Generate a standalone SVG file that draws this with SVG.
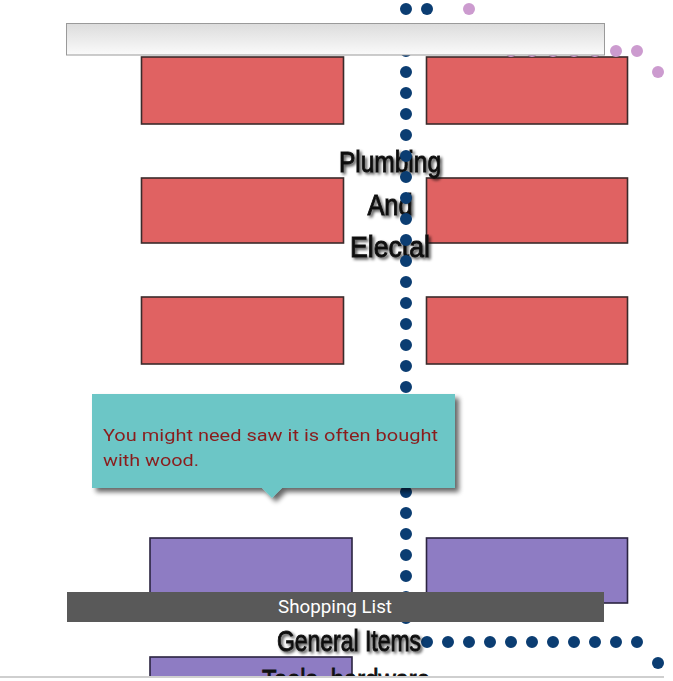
<svg xmlns="http://www.w3.org/2000/svg" width="673" height="681" viewBox="0 0 673 681">
<defs>
<linearGradient id="barGrad" x1="0" y1="0" x2="0" y2="1">
<stop offset="0" stop-color="#dcdcdc"/>
<stop offset="1" stop-color="#fafafa"/>
</linearGradient>
<filter id="txtShadow" x="-20%" y="-30%" width="140%" height="160%">
<feGaussianBlur in="SourceAlpha" stdDeviation="1.8" result="b"/>
<feOffset dx="2" dy="2" result="o"/>
<feComponentTransfer in="o" result="s"><feFuncA type="linear" slope="0.7"/></feComponentTransfer>
<feMerge><feMergeNode in="s"/><feMergeNode in="SourceGraphic"/></feMerge>
</filter>
<filter id="boxShadow" x="-10%" y="-20%" width="125%" height="150%">
<feGaussianBlur in="SourceAlpha" stdDeviation="2.5" result="b"/>
<feOffset dx="4" dy="4" result="o"/>
<feComponentTransfer in="o" result="s"><feFuncA type="linear" slope="0.6"/></feComponentTransfer>
<feMerge><feMergeNode in="s"/><feMergeNode in="SourceGraphic"/></feMerge>
</filter>
<clipPath id="bottomClip"><rect x="0" y="0" width="673" height="676"/></clipPath>
</defs>
<style>
.red{fill:#e06262;stroke:#3b2b2b;stroke-width:1.6}
.purple{fill:#8e7cc3;stroke:#2b2440;stroke-width:1.6}
.big{font-family:"Liberation Sans Narrow","Liberation Sans",sans-serif;font-size:29px;fill:#111;stroke:#111;stroke-width:0.9;text-anchor:middle}
.navy{fill:none;stroke:#0b3d72;stroke-width:12;stroke-linecap:round;stroke-dasharray:0 21}
.pink{fill:none;stroke:#cc9bcf;stroke-width:12;stroke-linecap:round;stroke-dasharray:0 21}
.tip{font-family:Roboto,"Liberation Sans",sans-serif;font-size:17px;fill:#8a1f1f}
</style>
<rect width="673" height="681" fill="#ffffff"/>

<g id="node-red-1"><rect class="red" x="141.5" y="57" width="202" height="67"/></g>
<g id="node-red-2"><rect class="red" x="426.5" y="57" width="201" height="67"/></g>
<g id="node-red-3"><rect class="red" x="141.5" y="178" width="202" height="65"/></g>
<g id="node-red-4"><rect class="red" x="426.5" y="178" width="201" height="65"/></g>
<g id="node-red-5"><rect class="red" x="141.5" y="297" width="202" height="67"/></g>
<g id="node-red-6"><rect class="red" x="426.5" y="297" width="201" height="67"/></g>

<g id="node-purple-1"><rect class="purple" x="150" y="538" width="202" height="70"/></g>
<g id="node-purple-2"><rect class="purple" x="426.5" y="538" width="201" height="65"/></g>
<g id="node-purple-3"><rect class="purple" x="150" y="657" width="202" height="40" clip-path="url(#bottomClip)"/></g>

<g id="label-plumbing" filter="url(#txtShadow)">
<text class="big" x="390" y="172" textLength="102" lengthAdjust="spacingAndGlyphs">Plumbing</text>
<text class="big" x="390" y="215" textLength="45" lengthAdjust="spacingAndGlyphs">And</text>
<text class="big" x="390" y="257" textLength="80" lengthAdjust="spacingAndGlyphs">Electal</text>
</g>

<g id="connectors">
<path class="navy" d="M406,9 V630"/>
<path class="navy" d="M427,642 H640"/>
<circle cx="427" cy="9" r="6" fill="#0b3d72"/>
<circle cx="658" cy="663" r="6" fill="#0b3d72"/>
<path class="pink" d="M637,51 H500"/>
<circle cx="469" cy="9" r="6" fill="#cc9bcf"/>
<circle cx="658" cy="72" r="6" fill="#cc9bcf"/>
</g>

<g id="header-bar"><rect x="66.5" y="23.5" width="538" height="31.5" fill="url(#barGrad)" stroke="#9a9a9a" stroke-width="1"/></g>

<g id="tooltip" filter="url(#boxShadow)">
<path d="M92,394 H455 V488 H282 L272,498 L262,488 H92 Z" fill="#6cc6c6"/>
<text class="tip" x="103" y="441" textLength="335" lengthAdjust="spacingAndGlyphs">You might need saw it is often bought</text>
<text class="tip" x="103" y="466" textLength="96" lengthAdjust="spacingAndGlyphs">with wood.</text>
</g>

<g id="shopping-list-bar">
<rect x="67" y="592" width="537" height="30" fill="#595959"/>
<text x="335" y="613" font-family="Roboto,'Liberation Sans',sans-serif" font-size="17.5" fill="#ffffff" text-anchor="middle" textLength="114" lengthAdjust="spacingAndGlyphs">Shopping List</text>
</g>

<g id="label-general" filter="url(#txtShadow)">
<text class="big" x="349" y="651" textLength="144" lengthAdjust="spacingAndGlyphs">General Items</text>
</g>

<g id="label-tools" clip-path="url(#bottomClip)">
<text class="big" x="346" y="690" textLength="168" lengthAdjust="spacingAndGlyphs">Tools, hardware</text>
</g>

<g id="bottom-edge">
<rect x="0" y="676" width="673" height="5" fill="#ffffff"/>
<line x1="0" y1="677" x2="664" y2="677" stroke="#cfcfcf" stroke-width="2"/>
</g>
</svg>
